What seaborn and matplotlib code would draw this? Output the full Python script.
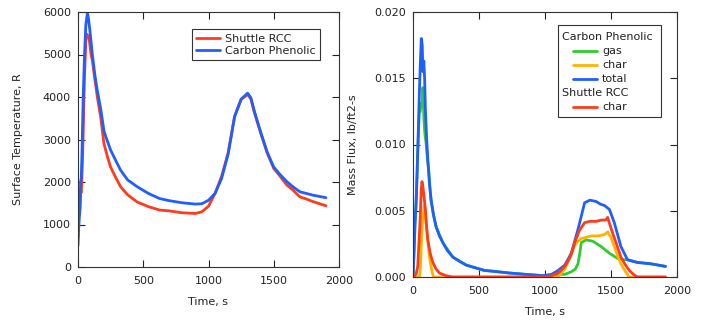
import numpy as np
import pandas as pd
import matplotlib
matplotlib.use("Agg")
import matplotlib.pyplot as plt
from matplotlib.patches import Rectangle
import seaborn as sns

# ---- left panel: surface temperature (R) ----
t_rcc = [0, 5, 10, 15, 20, 25, 30, 35, 40, 50, 60, 66, 75, 85, 100, 110, 130, 148,
         175, 199, 225, 250, 290, 326, 380, 453, 540, 626, 700, 800, 900, 950, 1000,
         1050, 1100, 1150, 1200, 1250, 1300, 1325, 1350, 1400, 1450, 1500, 1550, 1600,
         1650, 1700, 1750, 1800, 1850, 1900]
temp_rcc = [700, 1500, 1250, 1400, 1800, 1750, 2100, 2600, 3200, 4500, 5300, 5480, 5450,
            5380, 5000, 4860, 4400, 4000, 3500, 2900, 2600, 2350, 2100, 1890, 1700, 1530,
            1420, 1340, 1320, 1275, 1260, 1300, 1430, 1730, 2130, 2680, 3540, 3940, 4060,
            3950, 3650, 3150, 2680, 2320, 2130, 1930, 1800, 1650, 1600, 1540, 1490, 1440]
t_cp = [0, 5, 10, 15, 20, 25, 30, 35, 40, 50, 60, 72, 80, 90, 110, 130, 148, 175, 199,
        215, 250, 290, 326, 380, 453, 540, 626, 700, 800, 900, 950, 1000, 1050, 1100,
        1150, 1200, 1250, 1300, 1325, 1350, 1400, 1450, 1500, 1550, 1600, 1650, 1700,
        1750, 1800, 1850, 1900]
temp_cp = [500, 900, 1150, 1350, 2000, 2100, 2600, 3300, 4000, 5000, 5700, 5980, 5850,
           5600, 5000, 4500, 4150, 3700, 3200, 3050, 2750, 2500, 2280, 2050, 1890, 1730,
           1610, 1560, 1510, 1480, 1490, 1570, 1730, 2080, 2650, 3540, 3950, 4090, 3980,
           3680, 3170, 2700, 2350, 2170, 2010, 1880, 1770, 1730, 1690, 1660, 1630]

# ---- right panel: mass flux (lb/ft2-s) ----
t_total = [0, 8, 15, 23, 30, 36, 48, 55, 63, 70, 75, 82, 88, 94, 103, 112, 125, 137, 155,
           175, 200, 226, 260, 302, 350, 403, 470, 540, 640, 730, 850, 983, 1050, 1100,
           1150, 1200, 1250, 1300, 1340, 1387, 1420, 1450, 1488, 1525, 1575, 1625, 1700,
           1800, 1913]
flux_total = [0, 0.002, 0.004, 0.0055, 0.0075, 0.0095, 0.0138, 0.016, 0.018, 0.0175,
              0.0155, 0.0163, 0.015, 0.0126, 0.0105, 0.0089, 0.007, 0.0058, 0.0047,
              0.0038, 0.0031, 0.0026, 0.002, 0.0015, 0.0012, 0.0009, 0.0007, 0.0005,
              0.0004, 0.0003, 0.0002, 0.0001, 0.0002, 0.0005, 0.0009, 0.0018, 0.0036,
              0.0056, 0.0058, 0.0057, 0.0055, 0.0054, 0.0051, 0.0041, 0.0023, 0.0013,
              0.0011, 0.001, 0.0008]
t_gas = [0, 8, 15, 23, 30, 36, 48, 55, 62, 68, 75, 82, 90, 99, 110, 119, 128, 137, 155,
         175, 226, 302, 403, 540, 730, 983, 1050, 1100, 1150, 1200, 1230, 1250, 1265,
         1275, 1312, 1362, 1425, 1487, 1550, 1600, 1625, 1700, 1800, 1913]
flux_gas = [0, 0.002, 0.004, 0.0055, 0.0075, 0.0095, 0.0125, 0.0125, 0.0131, 0.013,
            0.0143, 0.012, 0.0108, 0.0101, 0.0088, 0.0081, 0.0068, 0.0058, 0.0047,
            0.0038, 0.0026, 0.0015, 0.0009, 0.0005, 0.0003, 0.0001, 0.0001, 0.0002,
            0.0002, 0.0004, 0.0006, 0.001, 0.0019, 0.0026, 0.0028, 0.0027, 0.0023,
            0.0018, 0.0014, 0.0013, 0.0013, 0.0011, 0.001, 0.0008]
t_char = [0, 50, 58, 65, 75, 85, 95, 110, 125, 140, 155, 1100, 1150, 1200, 1225, 1250,
          1275, 1350, 1400, 1450, 1475, 1500, 1525, 1550, 1575, 1610, 1638, 1913]
flux_char = [0, 0, 0.001, 0.003, 0.0045, 0.0054, 0.0045, 0.003, 0.0015, 0.0006, 0,
             0, 0.0006, 0.0017, 0.0024, 0.0027, 0.0029, 0.0031, 0.0031, 0.0032, 0.0034,
             0.003, 0.0023, 0.0016, 0.001, 0.0004, 0, 0]
t_rcc_char = [0, 23, 36, 48, 55, 62, 68, 75, 82, 94, 103, 112, 130, 150, 175, 200, 250,
              300, 1000, 1050, 1100, 1150, 1190, 1225, 1260, 1300, 1340, 1387, 1430, 1460,
              1475, 1490, 1513, 1545, 1575, 1610, 1638, 1670, 1700, 1913]
flux_rcc_char = [0, 0.0002, 0.0008, 0.0031, 0.0045, 0.0065, 0.0072, 0.0068, 0.0062,
                 0.0051, 0.0038, 0.0028, 0.0018, 0.0011, 0.0006, 0.0003, 0.0001, 0, 0,
                 0.0001, 0.0003, 0.0008, 0.0015, 0.0026, 0.0035, 0.0041, 0.0042, 0.0042,
                 0.0043, 0.0043, 0.0045, 0.004, 0.0033, 0.0024, 0.0015, 0.0009, 0.0005,
                 0.0002, 0, 0]

RED = "#ff3b1c"
BLUE = "#1f5eff"
GREEN = "#2ecc2e"
ORANGE = "#ffb300"
INK = "#222222"

temp_df = pd.concat([
    pd.DataFrame({"t": t_rcc, "v": temp_rcc, "series": "Shuttle RCC"}),
    pd.DataFrame({"t": t_cp, "v": temp_cp, "series": "Carbon Phenolic"}),
])
flux_df = pd.concat([
    pd.DataFrame({"t": t_gas, "v": flux_gas, "series": "gas"}),
    pd.DataFrame({"t": t_char, "v": flux_char, "series": "cp char"}),
    pd.DataFrame({"t": t_total, "v": flux_total, "series": "total"}),
    pd.DataFrame({"t": t_rcc_char, "v": flux_rcc_char, "series": "rcc char"}),
])

sns.set_style("ticks")
plt.rcParams["font.family"] = ["DejaVu Sans"]
plt.rcParams["font.size"] = 8
plt.rcParams["axes.edgecolor"] = "#333333"
plt.rcParams["text.color"] = INK
plt.rcParams["axes.labelcolor"] = INK

W, H = 709, 322
fig = plt.figure(figsize=(W / 100, H / 100), dpi=100)
ax1 = fig.add_axes([78 / W, 1 - 267 / H, 261 / W, 255 / H])
ax2 = fig.add_axes([413 / W, 1 - 277 / H, 264 / W, 265 / H])

sns.lineplot(data=temp_df, x="t", y="v", hue="series", hue_order=["Shuttle RCC", "Carbon Phenolic"],
             palette=[RED, BLUE], estimator=None, sort=False, lw=2, legend=False, ax=ax1)
sns.lineplot(data=flux_df, x="t", y="v", hue="series", hue_order=["gas", "cp char", "total", "rcc char"],
             palette=[GREEN, ORANGE, BLUE, RED], estimator=None, sort=False, lw=2, legend=False, ax=ax2)

for ax in (ax1, ax2):
    ax.set_xlim(0, 2000)
    ax.set_xticks([0, 500, 1000, 1500, 2000])
    ax.tick_params(direction="in", top=True, right=True, length=5, width=0.8,
                   labelsize=8, colors=INK, pad=5)
    ax.tick_params(axis="x", pad=6.5)
    for s in ax.spines.values():
        s.set_linewidth(0.8)
    ax.set_xlabel("Time, s", fontsize=8, labelpad=8)

ax1.set_ylim(0, 6000)
ax1.set_yticks(range(0, 6001, 1000))
ax1.set_ylabel("Surface Temperature, R", fontsize=8, labelpad=14)

ax2.set_ylim(0, 0.020)
ax2.set_yticks([0, 0.005, 0.010, 0.015, 0.020])
ax2.set_yticklabels(["0.000", "0.005", "0.010", "0.015", "0.020"])
ax2.set_ylabel("Mass Flux, lb/ft2-s", fontsize=8, labelpad=12)

leg1 = ax1.legend(ax1.lines[:2], ["Shuttle RCC", "Carbon Phenolic"], loc="upper right",
                  bbox_to_anchor=(0.927, 0.933), fontsize=8, frameon=True, fancybox=False,
                  framealpha=1, edgecolor="#333333", borderaxespad=0, handlelength=2.2,
                  handletextpad=0.4, borderpad=0.4, labelspacing=0.2)
leg1.get_frame().set_linewidth(0.8)

# grouped legend on the right panel: headers flush left, entries indented
ax_x0, ax_y0, ax_w, ax_h = 413, 12, 264, 265


def fx(px):
    return (px - ax_x0) / ax_w


def fy(py):
    return 1 - (py - ax_y0) / ax_h


ax2.add_patch(Rectangle((fx(558), fy(117)), fx(661) - fx(558), fy(25) - fy(117),
                        transform=ax2.transAxes, facecolor="white", edgecolor="#333333",
                        lw=0.8, clip_on=False, zorder=5))
rows = [("Carbon Phenolic", None), ("gas", GREEN), ("char", ORANGE), ("total", BLUE),
        ("Shuttle RCC", None), ("char", RED)]
for i, (name, col) in enumerate(rows):
    py = 36.5 + 14.1 * i
    if col is None:
        ax2.text(fx(562), fy(py), name, transform=ax2.transAxes, fontsize=8,
                 va="center", ha="left", zorder=6)
    else:
        ax2.plot([fx(573), fx(597)], [fy(py), fy(py)], transform=ax2.transAxes,
                 color=col, lw=2, clip_on=False, zorder=6)
        ax2.text(fx(602), fy(py), name, transform=ax2.transAxes, fontsize=8,
                 va="center", ha="left", zorder=6)

fig.savefig("out.png", dpi=100)
